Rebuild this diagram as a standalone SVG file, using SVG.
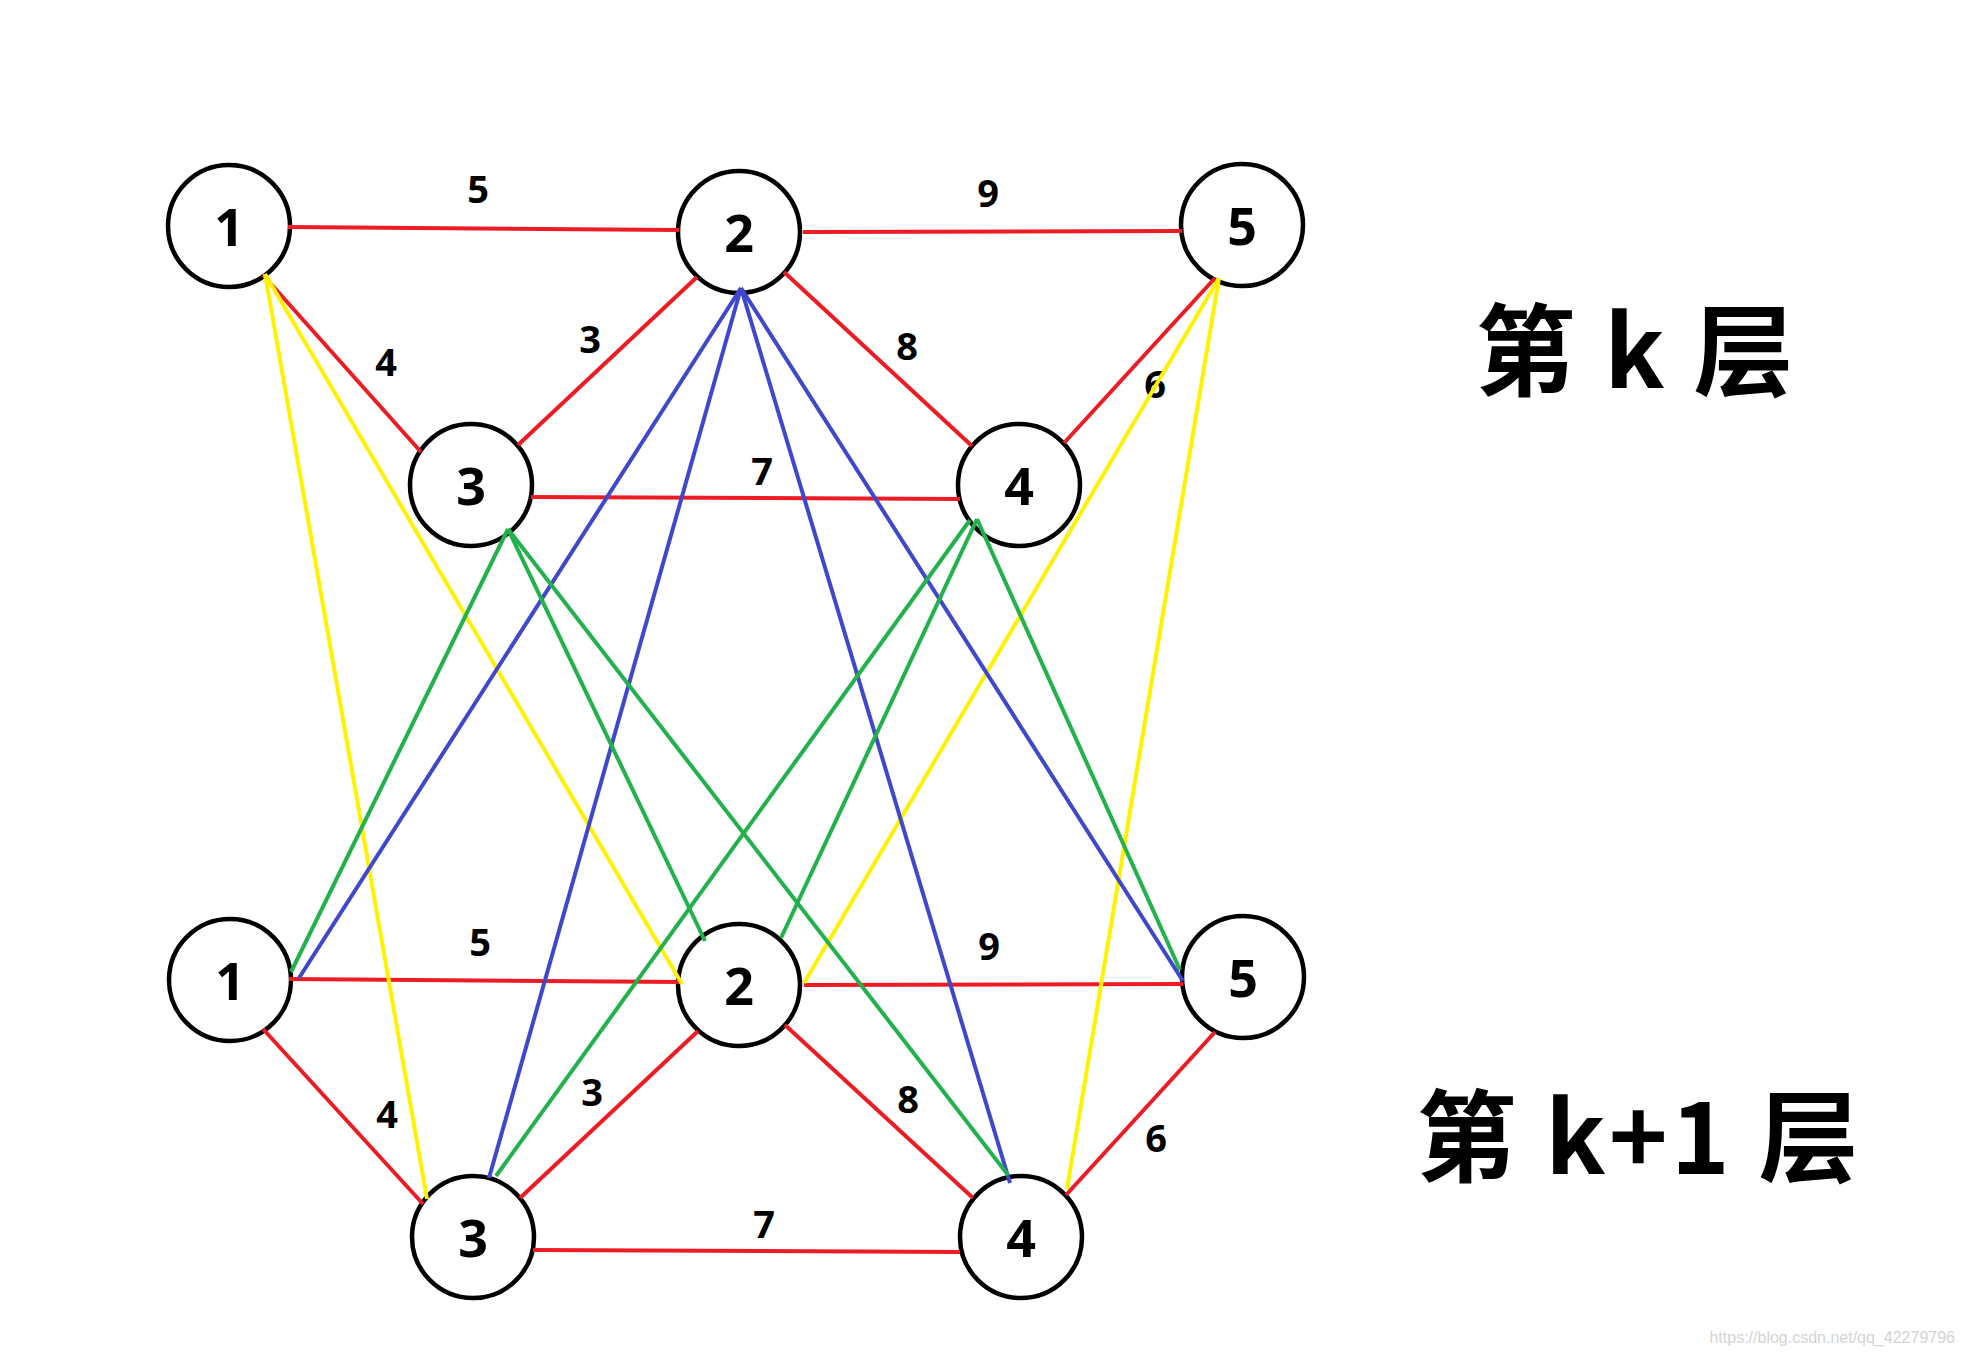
<svg xmlns="http://www.w3.org/2000/svg" width="1966" height="1356" viewBox="0 0 1966 1356">
<style>
.r{stroke:#ED1C24;stroke-width:4;fill:none}
.y{stroke:#FFF200;stroke-width:4;fill:none}
.b{stroke:#3F48CC;stroke-width:4;fill:none}
.g{stroke:#22B14C;stroke-width:4;fill:none}
.node circle{fill:#fff;stroke:#000;stroke-width:4.5}
.node text{font-family:"Noto Sans","DejaVu Sans",sans-serif;font-weight:bold;font-size:52px;text-anchor:middle;fill:#000}
.lbl{font-family:"Noto Sans","DejaVu Sans",sans-serif;font-weight:bold;font-size:38px;text-anchor:middle;fill:#000}
.head{font-family:"Noto Sans CJK SC","Noto Sans",sans-serif;font-weight:bold;font-size:100px;letter-spacing:3px;text-anchor:middle;fill:#000}
</style>
<rect width="1966" height="1356" fill="#fff"/>
<g id="nodes">
<g id="t1" class="node"><circle cx="229" cy="226" r="61"/><text x="229" y="246">1</text></g>
<g id="t2" class="node"><circle cx="739" cy="232" r="61"/><text x="739" y="252">2</text></g>
<g id="t5" class="node"><circle cx="1242" cy="225" r="61"/><text x="1242" y="245">5</text></g>
<g id="t3" class="node"><circle cx="471" cy="485" r="61"/><text x="471" y="505">3</text></g>
<g id="t4" class="node"><circle cx="1019" cy="485" r="61"/><text x="1019" y="505">4</text></g>
<g id="b1" class="node"><circle cx="230" cy="980" r="61"/><text x="230" y="1000">1</text></g>
<g id="b2" class="node"><circle cx="739" cy="985" r="61"/><text x="739" y="1005">2</text></g>
<g id="b5" class="node"><circle cx="1243" cy="977" r="61"/><text x="1243" y="997">5</text></g>
<g id="b3" class="node"><circle cx="473" cy="1237" r="61"/><text x="473" y="1257">3</text></g>
<g id="b4" class="node"><circle cx="1021" cy="1237" r="61"/><text x="1021" y="1257">4</text></g>
</g>
<g id="connectors">
<g id="red-top">
<line class="r" x1="288" y1="227" x2="679" y2="230"/>
<line class="r" x1="263" y1="275" x2="421" y2="452"/>
<line class="r" x1="697" y1="277" x2="518" y2="445"/>
<line class="r" x1="531" y1="497" x2="960" y2="499"/>
<line class="r" x1="803" y1="232" x2="1182" y2="231"/>
<line class="r" x1="784" y1="272" x2="972" y2="446"/>
<line class="r" x1="1215" y1="278" x2="1064" y2="443"/>
</g>
<g id="red-bottom">
<line class="r" x1="289" y1="979" x2="681" y2="982"/>
<line class="r" x1="263" y1="1029" x2="423" y2="1204"/>
<line class="r" x1="698" y1="1031" x2="520" y2="1198"/>
<line class="r" x1="533" y1="1250" x2="960" y2="1252"/>
<line class="r" x1="804" y1="985" x2="1183" y2="984"/>
<line class="r" x1="785" y1="1025" x2="973" y2="1198"/>
<line class="r" x1="1215" y1="1032" x2="1066" y2="1195"/>
</g>
<g id="edge-labels">
<text class="lbl" x="478" y="203">5</text>
<text class="lbl" x="386" y="376">4</text>
<text class="lbl" x="590" y="353">3</text>
<text class="lbl" x="762" y="485">7</text>
<text class="lbl" x="988" y="207">9</text>
<text class="lbl" x="907" y="360">8</text>
<text class="lbl" x="1155" y="398">6</text>
<text class="lbl" x="480" y="956">5</text>
<text class="lbl" x="387" y="1128">4</text>
<text class="lbl" x="592" y="1106">3</text>
<text class="lbl" x="764" y="1238">7</text>
<text class="lbl" x="989" y="960">9</text>
<text class="lbl" x="908" y="1113">8</text>
<text class="lbl" x="1156" y="1152">6</text>
</g>
<g id="cross">
<line class="y" x1="265" y1="274" x2="427" y2="1199"/>
<line class="y" x1="265" y1="274" x2="682" y2="984"/>
<line class="y" x1="1219" y1="278" x2="804" y2="983"/>
<line class="y" x1="1219" y1="278" x2="1067" y2="1189"/>
<line class="b" x1="741" y1="288" x2="299" y2="978"/>
<line class="b" x1="741" y1="288" x2="489" y2="1178"/>
<line class="b" x1="741" y1="288" x2="1010" y2="1183"/>
<line class="b" x1="741" y1="288" x2="1183" y2="981"/>
<line class="g" x1="508" y1="529" x2="291" y2="972"/>
<line class="g" x1="508" y1="529" x2="705" y2="941"/>
<line class="g" x1="508" y1="529" x2="1008" y2="1175"/>
<line class="g" x1="970" y1="520" x2="496" y2="1176"/>
<line class="g" x1="977" y1="519" x2="781" y2="938"/>
<line class="g" x1="977" y1="519" x2="1180" y2="970"/>
</g>
</g>
<text class="head" x="1636" y="388">第 k 层</text>
<text class="head" x="1639" y="1174">第 k+1 层</text>
<text x="1955" y="1343" font-family="Liberation Sans, Arial, sans-serif" font-size="16" fill="#d4d4d4" text-anchor="end">https://blog.csdn.net/qq_42279796</text>
</svg>
